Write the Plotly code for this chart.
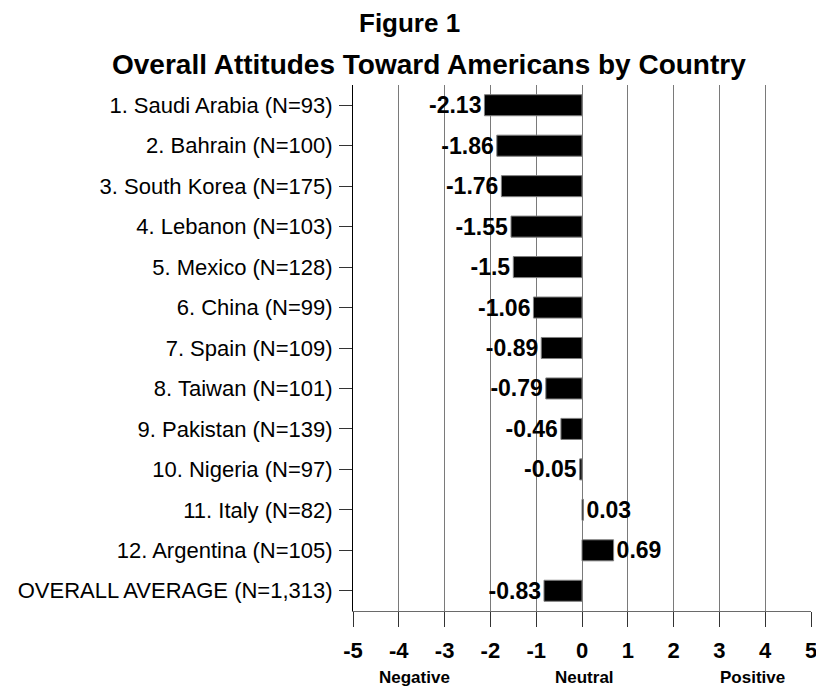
import plotly.graph_objects as go

categories = [
    "1. Saudi Arabia (N=93)",
    "2. Bahrain (N=100)",
    "3. South Korea (N=175)",
    "4. Lebanon (N=103)",
    "5. Mexico (N=128)",
    "6. China (N=99)",
    "7. Spain (N=109)",
    "8. Taiwan (N=101)",
    "9. Pakistan (N=139)",
    "10. Nigeria (N=97)",
    "11. Italy (N=82)",
    "12. Argentina (N=105)",
    "OVERALL AVERAGE (N=1,313)",
]
values = [-2.13, -1.86, -1.76, -1.55, -1.5, -1.06, -0.89, -0.79, -0.46, -0.05, 0.03, 0.69, -0.83]
x_ticks = [-5, -4, -3, -2, -1, 0, 1, 2, 3, 4, 5]
scale_labels = ["Negative", "Neutral", "Positive"]
scale_positions = [-3.66, 0.05, 3.72]

FONT = "Liberation Sans, Arial, sans-serif"

# page body adds an 8px offset; compensate so the screenshot matches 824x688
OFF = 8
W, H = 824 - OFF, 688 - OFF
L, R, T, B = 353 - OFF, 7, 85 - OFF, 77
pw = W - L - R
ph = H - T - B

fig = go.Figure()
fig.add_trace(go.Bar(
    x=values,
    y=categories,
    orientation="h",
    width=0.52,
    marker=dict(color="black", line=dict(color="#7f7f7f", width=1)),
    text=[str(v) for v in values],
    textposition="outside",
    constraintext="none",
    textfont=dict(family=FONT, size=23, color="black", weight="bold"),
    cliponaxis=False,
    hoverinfo="skip",
))

fig.update_layout(
    width=W, height=H,
    margin=dict(l=L, r=R, t=T, b=B),
    paper_bgcolor="white",
    plot_bgcolor="white",
    showlegend=False,
    font=dict(family=FONT, color="black"),
    bargap=0.48,
)

fig.update_xaxes(
    range=[-5, 5],
    tickvals=x_ticks,
    ticktext=[str(t) for t in x_ticks],
    showgrid=True,
    gridcolor="#7a7a7a",
    gridwidth=1,
    zeroline=False,
    showline=True,
    linecolor="#6a6a6a",
    linewidth=1,
    ticks="outside",
    ticklen=15,
    tickcolor="#333333",
    tickwidth=1,
    tickfont=dict(family=FONT, size=22, color="black", weight="bold"),
    ticklabelstandoff=5,
    fixedrange=True,
)

fig.update_yaxes(
    type="category",
    categoryorder="array",
    categoryarray=categories,
    range=[len(categories) - 0.5, -0.5],
    showgrid=False,
    zeroline=False,
    showline=True,
    linecolor="black",
    linewidth=1,
    ticks="outside",
    ticklen=13,
    tickcolor="#333333",
    tickfont=dict(family=FONT, size=22, color="black"),
    ticklabelstandoff=2,
    fixedrange=True,
)

def px_to_paper_x(px):
    return (px - OFF - L) / pw

def px_to_paper_y(py):
    return (H - B - (py - OFF)) / ph

fig.add_annotation(
    text="Figure 1", xref="paper", yref="paper",
    x=px_to_paper_x(410), y=px_to_paper_y(23),
    xanchor="center", yanchor="middle", showarrow=False,
    font=dict(family=FONT, size=26, color="black", weight="bold"),
)
fig.add_annotation(
    text="Overall Attitudes Toward Americans by Country", xref="paper", yref="paper",
    x=px_to_paper_x(430), y=px_to_paper_y(64),
    xanchor="center", yanchor="middle", showarrow=False,
    font=dict(family=FONT, size=28, color="black", weight="bold"),
)
for lab, pos in zip(scale_labels, scale_positions):
    fig.add_annotation(
        text=lab, xref="x", yref="paper",
        x=pos, y=px_to_paper_y(677),
        xanchor="center", yanchor="middle", showarrow=False,
        font=dict(family=FONT, size=17, color="black", weight="bold"),
    )

fig.write_html("out.html")
